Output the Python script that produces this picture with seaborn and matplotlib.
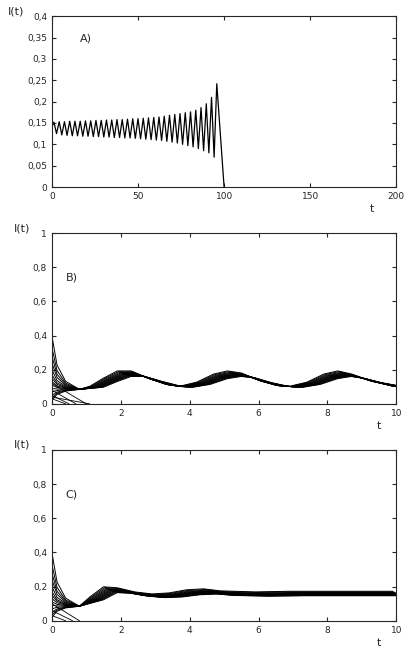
import matplotlib.pyplot as plt
import numpy as np
import seaborn as sns
from matplotlib.ticker import FuncFormatter

sns.set_style("ticks")
plt.rcParams['font.family'] = ['DejaVu Sans']

# Panel A: peak / trough values of each oscillation cycle
a_peaks = [0.152, 0.153, 0.153, 0.154, 0.154, 0.154, 0.155, 0.155, 0.156, 0.156,
           0.157, 0.157, 0.158, 0.158, 0.159, 0.16, 0.16, 0.161, 0.162, 0.163,
           0.164, 0.166, 0.168, 0.17, 0.172, 0.174, 0.176, 0.18, 0.186, 0.195,
           0.21, 0.242]
a_troughs = [0.125, 0.122, 0.121, 0.12, 0.12, 0.119, 0.119, 0.118, 0.118, 0.117,
             0.117, 0.116, 0.116, 0.115, 0.115, 0.114, 0.113, 0.112, 0.111, 0.11,
             0.109, 0.107, 0.105, 0.103, 0.1, 0.097, 0.094, 0.09, 0.085, 0.08,
             0.07, 0.0]
a_start = 0.14
a_period = 3.05

# Panel B: common periodic tail (time, value)
b_tail_t = [0.8, 1.2, 1.6, 2.0, 2.4, 2.9, 3.4, 3.8, 4.3, 4.8, 5.2, 5.6, 6.1, 6.6, 7.0, 7.5, 8.0, 8.4, 8.8, 9.3, 10.0]
b_tail_v = [0.085, 0.1, 0.14, 0.175, 0.175, 0.14, 0.11, 0.1, 0.12, 0.16, 0.175, 0.165, 0.13, 0.105, 0.1, 0.12, 0.16, 0.175, 0.16, 0.13, 0.1]
# Panel C: damped tail
c_tail_t = [0.8, 1.2, 1.6, 2.0, 2.5, 3.0, 3.5, 4.0, 4.5, 5.0, 6.0, 7.0, 8.0, 10.0]
c_tail_v = [0.085, 0.13, 0.18, 0.175, 0.155, 0.145, 0.15, 0.165, 0.17, 0.16, 0.155, 0.158, 0.158, 0.158]

# starting values, phase shifts and amplitude factors of the family of curves
start_vals = [0.4, 0.33, 0.28, 0.24, 0.2, 0.17, 0.15, 0.13, 0.11, 0.09, 0.07, 0.05, 0.035, 0.02]
shifts = [-0.1, -0.07, -0.04, -0.01, 0.02, 0.05, 0.08, 0.11, 0.14, 0.17, 0.2, 0.23, 0.26, 0.3]
amp = [1.2, 1.15, 1.1, 1.06, 1.03, 1.0, 0.98, 0.96, 0.94, 0.92, 0.9, 0.88, 0.86, 0.84]
# curves that die out near the origin
b_dead = [(0.12, 1.0), (0.08, 0.7), (0.05, 0.5), (0.03, 0.4), (0.04, 1.1)]
c_dead = [(0.1, 0.8), (0.06, 0.6), (0.03, 0.4)]

fig, axes = plt.subplots(3, 1, figsize=(4.15, 6.5), dpi=100)
fmt = FuncFormatter(lambda v, p: ('%g' % v).replace('.', ','))

def style(ax, xmax, ymax, yticks, xticks):
    ax.set_xlim(0, xmax)
    ax.set_ylim(0, ymax)
    ax.set_xticks(xticks)
    ax.set_yticks(yticks)
    ax.yaxis.set_major_formatter(fmt)
    ax.tick_params(direction='in', top=True, right=True, labelsize=6.5, length=3)
    for s in ax.spines.values():
        s.set_linewidth(0.8)

# A
ax = axes[0]
tA, vA = [0.0], [a_start]
for k in range(len(a_peaks)):
    tA += [1.2 + k * a_period, 2.7 + k * a_period]
    vA += [a_peaks[k], a_troughs[k]]
tA[-1] = 100.0
sns.lineplot(x=tA, y=vA, ax=ax, color='black', linewidth=0.9, sort=False)
style(ax, 200, 0.4, np.arange(0, 0.41, 0.05), [0, 50, 100, 150, 200])
ax.text(0.08, 0.85, 'A)', transform=ax.transAxes, fontsize=8)

def family(ax, tail_t, tail_v, dead):
    for s0, sh, a in zip(start_vals, shifts, amp):
        t = [0.0, 0.15, 0.4] + [x + sh * (x > 1) for x in tail_t]
        base = tail_v[0]
        v = [s0, base + (s0 - base) * 0.45, base + (s0 - base) * 0.15] + [base + (y - base) * a for y in tail_v]
        sns.lineplot(x=t, y=v, ax=ax, color='black', linewidth=0.7, sort=False)
    for y0, tend in dead:
        sns.lineplot(x=[0, tend], y=[y0, 0], ax=ax, color='black', linewidth=0.6, sort=False)

ax = axes[1]
family(ax, b_tail_t, b_tail_v, b_dead)
style(ax, 10, 1, np.arange(0, 1.01, 0.2), [0, 2, 4, 6, 8, 10])
ax.text(0.04, 0.72, 'B)', transform=ax.transAxes, fontsize=8)

ax = axes[2]
family(ax, c_tail_t, c_tail_v, c_dead)
style(ax, 10, 1, np.arange(0, 1.01, 0.2), [0, 2, 4, 6, 8, 10])
ax.text(0.04, 0.72, 'C)', transform=ax.transAxes, fontsize=8)

for ax, xt in zip(axes, [0.93, 0.95, 0.95]):
    ax.text(xt, -0.1, 't', transform=ax.transAxes, fontsize=8, ha='center', va='top')
    ax.set_ylabel('I(t)', fontsize=8, rotation=0, loc='top', labelpad=2)

fig.subplots_adjust(left=0.125, right=0.955, top=0.975, bottom=0.045, hspace=0.27)
fig.savefig('out.png', dpi=100)
